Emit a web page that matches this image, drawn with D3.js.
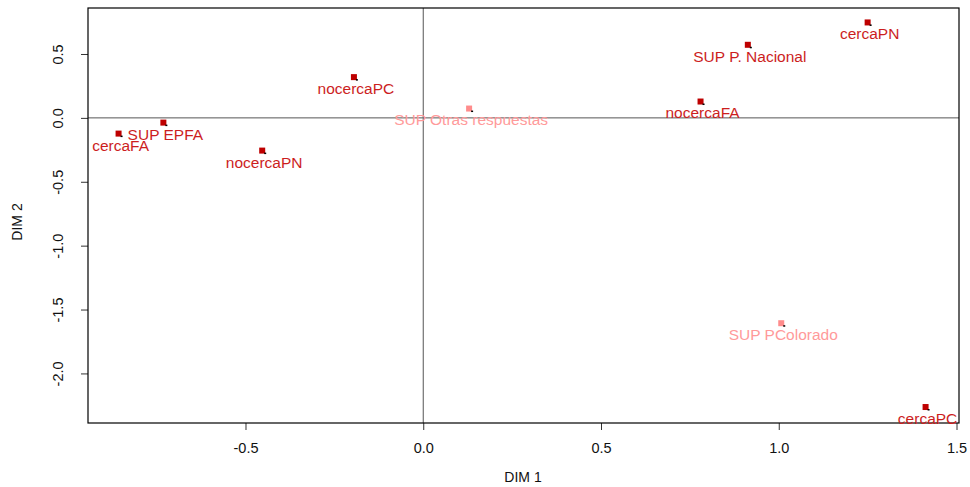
<!DOCTYPE html>
<html>
<head>
<meta charset="utf-8">
<script src="https://cdn.jsdelivr.net/npm/d3@7"></script>
<style>
  body { margin: 0; background: #fff; }
  svg { display: block; font-family: "Liberation Sans", Arial, sans-serif; }
</style>
</head>
<body>
<div id="chart"></div>
<script>
// category labels and their coordinates on the two dimensions
const labels = ['cercaFA', 'SUP EPFA', 'nocercaPN', 'nocercaPC', 'SUP Otras respuestas',
  'nocercaFA', 'SUP P. Nacional', 'cercaPN', 'SUP PColorado', 'cercaPC'];
const dim1 = [-0.857, -0.731, -0.453, -0.195, 0.129, 0.780, 0.913, 1.250, 1.007, 1.413];
const dim2 = [-0.123, -0.037, -0.256, 0.319, 0.073, 0.128, 0.572, 0.747, -1.607, -2.263];
// supplementary categories with few answers are drawn lighter
const faded = [false, false, false, false, true, false, false, false, true, false];

const xTicks = [-0.5, 0, 0.5, 1, 1.5];
const yTicks = [-2, -1.5, -1, -0.5, 0, 0.5];

const width = 970;
const height = 487;
const margin = { top: 8, right: 11, bottom: 64, left: 88 };

const points = labels.map((d, i) => ({ label: d, x: dim1[i], y: dim2[i], faded: faded[i] }));

const svg = d3.select('#chart')
  .append('svg')
  .attr('width', width)
  .attr('height', height);

const x = d3.scaleLinear()
  .domain([-0.943, 1.507])
  .range([margin.left, width - margin.right]);

const y = d3.scaleLinear()
  .domain([-2.388, 0.860])
  .range([height - margin.bottom, margin.top]);

const fmt = (d) => d.toFixed(1);

// zero reference lines
svg.append('line')
  .attr('x1', margin.left)
  .attr('x2', width - margin.right)
  .attr('y1', y(0))
  .attr('y2', y(0))
  .style('stroke', '#555')
  .style('stroke-width', 1);

svg.append('line')
  .attr('x1', x(0))
  .attr('x2', x(0))
  .attr('y1', margin.top)
  .attr('y2', height - margin.bottom)
  .style('stroke', '#555')
  .style('stroke-width', 1);

// axes
const xAxis = svg.append('g')
  .attr('transform', `translate(0,${height - margin.bottom})`)
  .call(d3.axisBottom(x).tickValues(xTicks).tickFormat(fmt).tickSize(7).tickPadding(13));

xAxis.select('.domain').remove();
xAxis.selectAll('line').style('stroke', '#333');
xAxis.selectAll('text')
  .style('font-size', '14.5px')
  .style('fill', '#111')
  .style('font-family', '"Liberation Sans", Arial, sans-serif');

const yAxis = svg.append('g')
  .attr('transform', `translate(${margin.left},0)`)
  .call(d3.axisLeft(y).tickValues(yTicks).tickFormat(fmt).tickSize(7));

yAxis.select('.domain').remove();
yAxis.selectAll('line').style('stroke', '#333');
yAxis.selectAll('text')
  .attr('x', null)
  .attr('dy', null)
  .attr('text-anchor', 'middle')
  .attr('transform', 'translate(-24.7,0) rotate(-90)')
  .style('font-size', '14.5px')
  .style('fill', '#111')
  .style('font-family', '"Liberation Sans", Arial, sans-serif');

// plot box
svg.append('rect')
  .attr('x', margin.left)
  .attr('y', margin.top)
  .attr('width', width - margin.left - margin.right)
  .attr('height', height - margin.top - margin.bottom)
  .style('fill', 'none')
  .style('stroke', '#000')
  .style('stroke-width', 1.2);

// axis titles
svg.append('text')
  .attr('x', 523)
  .attr('y', 482)
  .attr('text-anchor', 'middle')
  .style('font-size', '14px')
  .style('fill', '#111')
  .text('DIM 1');

svg.append('text')
  .attr('transform', 'translate(22,222) rotate(-90)')
  .attr('text-anchor', 'middle')
  .style('font-size', '14px')
  .style('fill', '#111')
  .text('DIM 2');

// points
const g = svg.append('g');

g.selectAll('.pt')
  .data(points)
  .enter()
  .append('rect')
  .attr('class', 'pt')
  .attr('x', (d) => x(d.x) - 3)
  .attr('y', (d) => y(d.y) - 3)
  .attr('width', 6)
  .attr('height', 6)
  .style('fill', (d) => (d.faded ? '#FF8C8C' : '#BE0000'));

g.selectAll('.dot')
  .data(points)
  .enter()
  .append('rect')
  .attr('class', 'dot')
  .attr('x', (d) => x(d.x) + 2)
  .attr('y', (d) => y(d.y) + 2)
  .attr('width', 2)
  .attr('height', 1.5)
  .style('fill', '#000');

g.selectAll('.lbl')
  .data(points)
  .enter()
  .append('text')
  .attr('class', 'lbl')
  .attr('x', (d) => x(d.x) + 2)
  .attr('y', (d) => y(d.y) + 11.5)
  .attr('dy', '0.35em')
  .attr('text-anchor', 'middle')
  .style('font-size', '15.5px')
  .style('fill', (d) => (d.faded ? '#FF9A9A' : '#CC1E1E'))
  .text((d) => d.label);
</script>
</body>
</html>
